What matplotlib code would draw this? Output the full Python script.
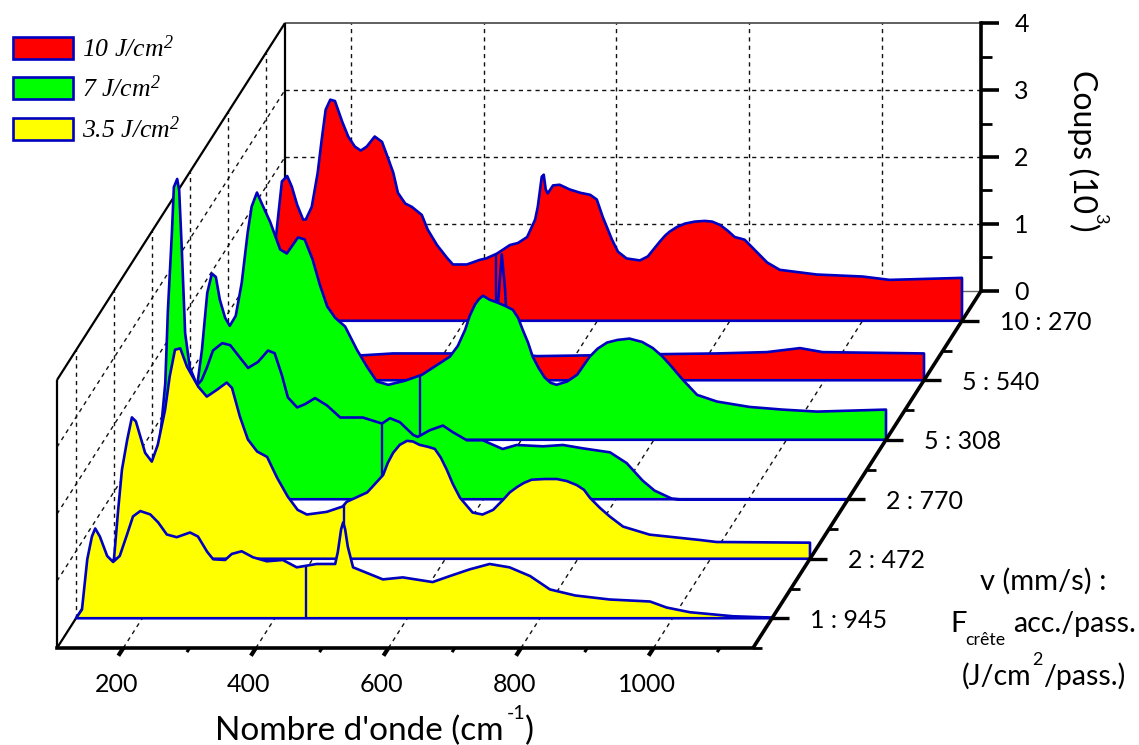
import numpy as np
import matplotlib
matplotlib.use('Agg')
import matplotlib.pyplot as plt
from matplotlib.patches import Patch

plt.rcParams['font.family'] = ['Lato', 'DejaVu Sans']
plt.rcParams['mathtext.fontset'] = 'custom'
plt.rcParams['mathtext.it'] = 'Liberation Serif:italic'
plt.rcParams['mathtext.rm'] = 'Liberation Serif:italic'
plt.rcParams['mathtext.default'] = 'it'

W, H = 1139, 745
BLUE = '#0000C0'
RED, GREEN, YELLOW = '#FF0000', '#00FF00', '#FFFF00'

depth_labels = ['1 : 945', '2 : 472', '2 : 770', '5 : 308', '5 : 540', '10 : 270']
series_colors = [YELLOW, YELLOW, GREEN, GREEN, RED, RED]
drop_wn = 447

wn1 = [100,109,117,124,129,136,147,156,166,177,186,197,212,224,237,252,272,284,298,307,325,335,350,367,388,412,433,463,491,495,500,503,506,510,518,543,563,593,638,664,694,724,754,785,815,853,905,966,991,1026,1091,1150]
c1 = [0,.13,.88,1.22,1.34,1.22,.93,.84,.93,1.25,1.52,1.60,1.55,1.43,1.25,1.21,1.28,1.22,.99,.88,.87,.96,1.00,.91,.85,.87,.76,.81,.81,.99,1.33,1.43,1.33,1.07,.76,.66,.58,.61,.54,.63,.73,.81,.76,.63,.43,.34,.28,.25,.16,.09,.03,.01]

wn2 = [100,106,112,120,127,133,147,157,166,177,184,192,200,210,227,240,255,270,278,290,302,316,331,346,362,377,391,421,445,451,482,506,513,521,531,542,551,561,574,584,593,602,611,622,641,656,672,687,697,708,718,730,750,768,783,798,809,818,833,848,868,908,984,1009,1150]
c2 = [0,.70,1.33,1.78,2.11,2.05,1.58,1.45,1.70,2.22,2.72,3.12,3.14,2.87,2.57,2.42,2.52,2.63,2.55,2.12,1.78,1.60,1.52,1.21,.93,.73,.66,.70,.78,.85,.99,1.25,1.43,1.58,1.70,1.76,1.75,1.70,1.67,1.64,1.51,1.33,1.12,.91,.69,.66,.73,.88,.99,1.07,1.13,1.18,1.19,1.19,1.16,1.10,1.03,.91,.76,.63,.48,.36,.28,.25,.24]

wn3 = [100,112,120,124,130,133,138,141,145,150,157,168,175,183,192,206,218,233,245,260,275,285,296,305,319,331,346,364,384,418,447,459,474,494,501,519,539,554,575,599,629,650,690,720,750,791,816,840,858,884,896,1150]
c3 = [0,.88,1.73,2.82,3.97,4.66,4.78,4.61,3.72,2.48,1.97,1.70,1.78,1.97,2.22,2.33,2.30,2.11,1.96,2.05,2.22,2.18,1.85,1.52,1.37,1.42,1.51,1.40,1.22,1.22,1.13,1.21,1.15,.96,.93,1.03,1.10,1.00,.88,.88,.75,.81,.79,.81,.76,.70,.54,.28,.13,.01,0,0]

wn4 = [100,111,118,126,133,139,145,153,160,169,178,187,193,201,209,221,236,246,263,273,285,296,307,319,334,352,367,382,399,424,450,492,504,515,522,530,536,542,552,563,575,587,595,602,610,617,626,635,644,653,669,684,703,715,729,745,763,782,798,812,824,843,865,895,944,994,1046,1150]
c4 = [0,.82,1.34,2.19,2.48,2.43,2.09,1.82,1.70,1.85,2.34,3.09,3.48,3.69,3.51,3.25,2.84,2.78,3.02,2.99,2.69,2.31,1.99,1.82,1.69,1.34,1.09,.87,.82,.88,.97,1.24,1.40,1.64,1.85,2.02,2.10,2.15,2.09,2.05,2.00,1.94,1.82,1.64,1.45,1.24,1.07,.93,.85,.82,.87,.97,1.24,1.36,1.45,1.49,1.51,1.46,1.37,1.25,1.12,.90,.67,.57,.49,.45,.42,.45]

wn5 = [100,111,299,349,435,495,503,509,513,518,522,528,566,635,756,837,913,963,997,1150]
c5 = [0,.37,.37,.40,.40,.40,.61,1.36,1.88,1.36,.61,.40,.36,.37,.39,.40,.42,.48,.42,.40]

wn6 = [100,109,115,124,132,139,147,156,160,169,178,184,190,197,204,215,224,234,243,252,264,275,284,292,299,310,320,335,344,358,373,382,403,423,432,448,468,480,494,506,510,516,519,522,525,533,543,558,574,589,599,608,622,631,644,664,676,694,702,709,720,732,747,762,773,785,797,807,822,840,856,875,931,1000,1041,1150]
c6 = [0,.46,1.25,2.08,2.16,2.00,1.73,1.51,1.51,1.70,2.21,2.70,3.15,3.30,3.28,2.97,2.75,2.60,2.54,2.60,2.75,2.67,2.43,2.21,1.91,1.75,1.70,1.58,1.36,1.13,.94,.84,.84,.91,.93,1.00,1.13,1.16,1.25,1.51,1.70,2.15,2.18,1.96,1.90,2.02,2.03,1.96,1.91,1.88,1.81,1.55,1.21,1.03,.93,.90,.96,1.18,1.27,1.33,1.40,1.45,1.48,1.49,1.48,1.43,1.34,1.25,1.21,1.03,.87,.76,.69,.66,.61,.64]

all_wn = [wn1, wn2, wn3, wn4, wn5, wn6]
all_c = [c1, c2, c3, c4, c5, c6]

x_major = [200, 400, 600, 800, 1000]
x_minor = [300, 500, 700, 900, 1100]
z_major = [0, 1, 2, 3, 4]
z_minor = [0.5, 1.5, 2.5, 3.5]
WN0, WN1, Z1, D1 = 100, 1150, 4, 6

fig = plt.figure(figsize=(W / 100, H / 100), dpi=100)
ax = fig.add_axes([57 / W, (H - 648) / H, 696 / W, 268 / H])
ax.set_xlim(WN0, WN1)
ax.set_ylim(0, Z1)
ax.axis('off')

PXX = (WN1 - WN0) / 696          # wavenumber per pixel
PXY = Z1 / 268                   # counts per pixel
DX, DY = 38 * PXX, 59.5 * PXY    # oblique shift of one depth step


def P(wn, z, d):
    return np.asarray(wn, float) + np.asarray(d, float) * DX, np.asarray(z, float) + np.asarray(d, float) * DY


def seg(wn, z, d, **kw):
    x, y = P(wn, z, d)
    kw.setdefault('color', 'black')
    kw.setdefault('solid_capstyle', 'butt')
    ax.plot(x, y, clip_on=False, **kw)


grid = dict(lw=1.0, ls=(0, (3, 3)), zorder=1, color='#111111')
for w in x_major:
    seg([w, w], [0, 0], [0, D1], **grid)
    seg([w, w], [0, Z1], [D1, D1], **grid)
for z in z_major[1:-1]:
    seg([WN0, WN1], [z, z], [D1, D1], **grid)
    seg([WN0, WN0], [z, z], [0, D1], **grid)
for i in range(6):
    seg([WN0, WN0], [0, Z1], [i + .5, i + .5], **grid)

# walls
seg([WN0, WN1], [Z1, Z1], [D1, D1], lw=1.2, color='#444444', zorder=2)
seg([WN0, WN1], [0, 0], [D1, D1], lw=1.0, color='#666666', zorder=2)
seg([WN0, WN0], [0, Z1], [D1, D1], lw=1.6, zorder=2)
seg([WN0, WN0], [0, Z1], [0, 0], lw=1.6, zorder=2)
seg([WN0, WN0], [Z1, Z1], [0, D1], lw=1.6, zorder=2)
seg([WN0, WN0], [0, 0], [0, D1], lw=1.6, zorder=2)

# spectra, back to front
for i in range(5, -1, -1):
    d = i + .5
    w, c = np.array(all_wn[i], float), np.array(all_c[i], float)
    x, y = P(np.r_[w, w[-1]], np.r_[c, 0], d)
    ax.fill(x, y, facecolor=series_colors[i], edgecolor=BLUE, lw=1.9,
            joinstyle='round', clip_on=False, zorder=10 + 2 * (5 - i))
    seg([drop_wn, drop_wn], [0, np.interp(drop_wn, w, c)], [d, d], color=BLUE,
        lw=1.7, zorder=10 + 2 * (5 - i) + 1)

# main axes lines and ticks
seg([WN0, WN1], [0, 0], [0, 0], lw=2.6, zorder=40, solid_capstyle='projecting')
seg([WN1, WN1], [0, 0], [0, D1], lw=2.6, zorder=40)
seg([WN1, WN1], [0, Z1], [D1, D1], lw=2.6, zorder=40, solid_capstyle='projecting')

for w in x_major:
    seg([w, w], [0, 0], [0, -.13], lw=3, zorder=39)
    ax.annotate(str(w), xy=P(w, 0, 0), xytext=(-5, -26), textcoords='offset points',
                ha='center', va='center', fontsize=18, annotation_clip=False)
for w in x_minor:
    seg([w, w], [0, 0], [0, -.07], lw=2.2, zorder=39)
for i, lab in enumerate(depth_labels):
    d = i + .5
    seg([WN1, WN1 + 17 * PXX], [0, 0], [d, d], lw=2.4, zorder=39)
    seg([WN1, WN1 + 9 * PXX], [0, 0], [d - .5, d - .5], lw=2.0, zorder=39)
    ax.annotate(lab, xy=P(WN1, 0, d), xytext=(27.5, -1.5), textcoords='offset points',
                ha='left', va='center', fontsize=18, annotation_clip=False)
for z in z_major:
    seg([WN1, WN1 + 18 * PXX], [z, z], [D1, D1], lw=2.6, zorder=39)
    ax.annotate(str(z), xy=P(WN1, z, D1), xytext=(24, -1), textcoords='offset points',
                ha='left', va='center', fontsize=18, annotation_clip=False)
for z in z_minor:
    seg([WN1, WN1 + 11 * PXX], [z, z], [D1, D1], lw=2.0, zorder=39)


def T(x, y, s, **kw):
    kw.setdefault('ha', 'left')
    kw.setdefault('va', 'baseline')
    fig.text(x / W, 1 - y / H, s, **kw)


T(215, 740, "Nombre d'onde (cm", fontsize=24)
T(507, 719, "-1", fontsize=14)
T(525, 740, ")", fontsize=24)

vkw = dict(rotation=270, rotation_mode='anchor')
T(1073, 70, "Coups (10", fontsize=23, **vkw)
T(1095, 213, "3", fontsize=13, **vkw)
T(1073, 224, ")", fontsize=23, **vkw)

T(1043, 590, "v (mm/s) :", fontsize=21, ha='center')
T(950, 632, "F", fontsize=21)
T(965, 645, "crête", fontsize=12.8)
T(1013, 632, "acc./pass.", fontsize=20.5)
T(962, 685, "(J/cm", fontsize=20.5)
T(1032, 665, "2", fontsize=13)
T(1043, 685, "/pass.)", fontsize=20.5)

# legend
handles = [Patch(facecolor=c, edgecolor=BLUE, lw=1.9) for c in (RED, GREEN, YELLOW)]
labels = ['10 J/cm$^{2}$', '7 J/cm$^{2}$', '3.5 J/cm$^{2}$']
leg = fig.legend(handles, labels, loc='upper left', bbox_to_anchor=(13 / W, 1 - 35 / H),
                 frameon=False, borderpad=0, borderaxespad=0, handlelength=2.33,
                 handleheight=0.93, handletextpad=0.35, labelspacing=0.55,
                 prop={'family': 'Liberation Serif', 'style': 'italic', 'size': 18.5})

fig.savefig('out.png', dpi=100, facecolor='white')
